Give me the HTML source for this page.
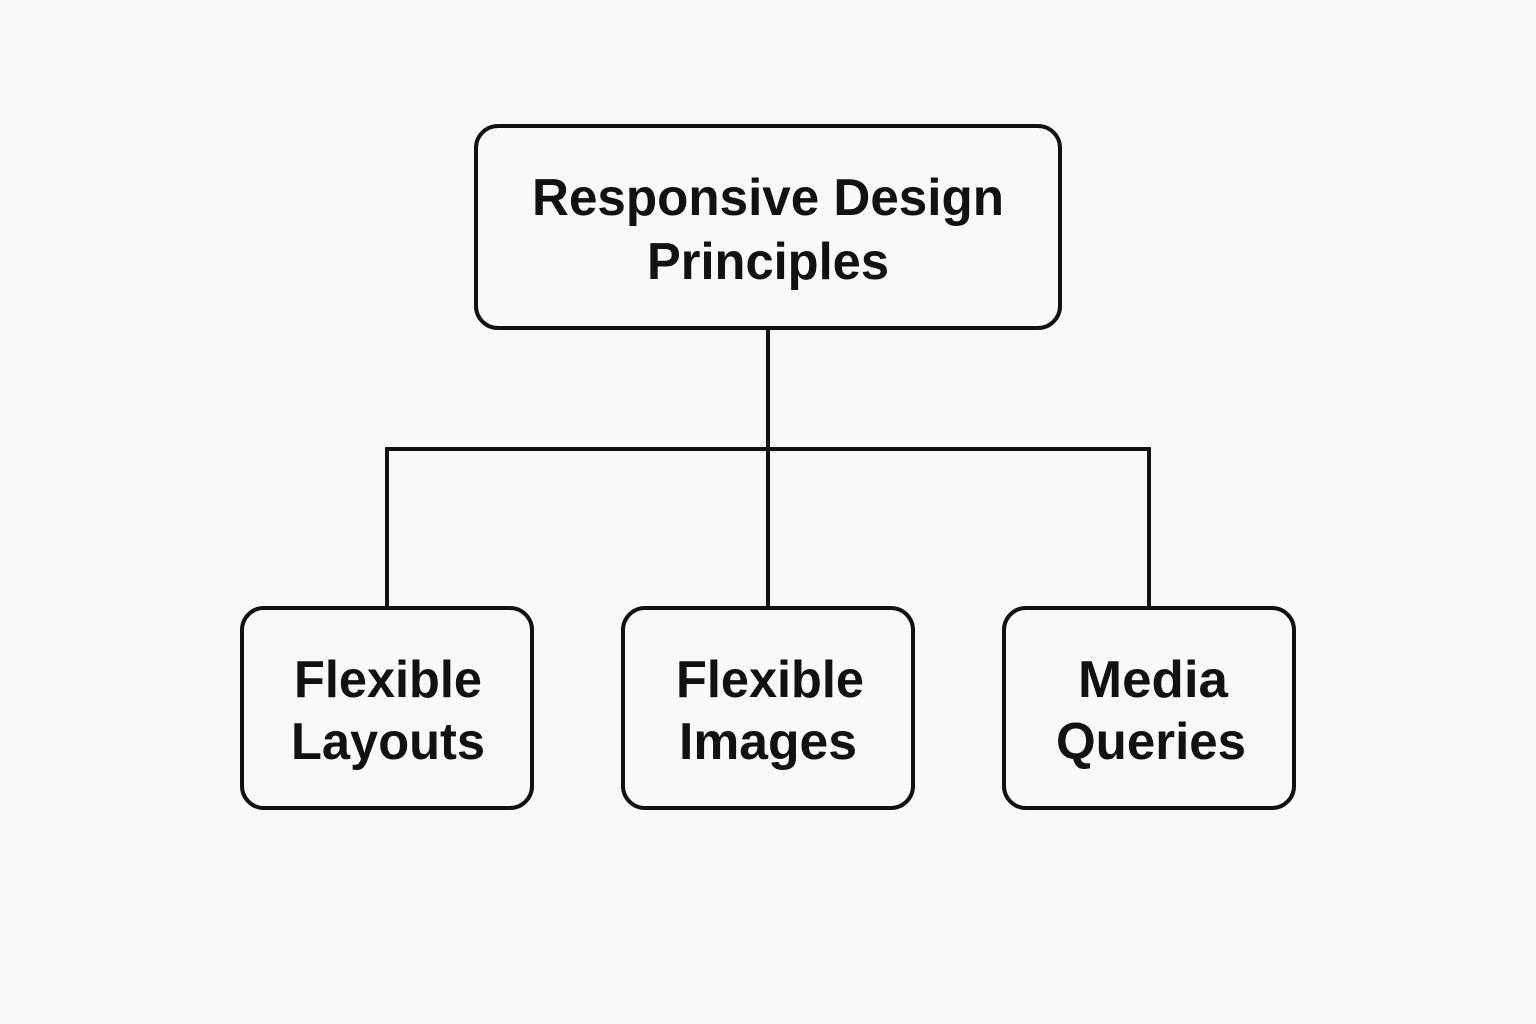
<!DOCTYPE html>
<html><head><meta charset="utf-8"><style>
html,body{margin:0;padding:0;background:#f9f9f9;}
svg{display:block;}
text{font-family:"Liberation Sans",sans-serif;font-weight:bold;fill:#111;text-anchor:middle;}
</style></head><body>
<svg width="1536" height="1024" viewBox="0 0 1536 1024">
<rect width="1536" height="1024" fill="#f9f9f9"/>
<g fill="none" stroke="#111" stroke-width="4">
<rect x="476" y="126" width="584" height="202" rx="22"/>
<rect x="242" y="608" width="290" height="200" rx="22"/>
<rect x="623" y="608" width="290" height="200" rx="22"/>
<rect x="1004" y="608" width="290" height="200" rx="22"/>
<path d="M768 328V608M387 608V449H1149V608"/>
</g>
<text x="768" y="215" font-size="52" textLength="472" lengthAdjust="spacingAndGlyphs">Responsive Design</text>
<text x="768" y="279" font-size="52" textLength="242" lengthAdjust="spacingAndGlyphs">Principles</text>
<text x="388" y="697" font-size="52" textLength="188" lengthAdjust="spacingAndGlyphs">Flexible</text>
<text x="388" y="759" font-size="52" textLength="194" lengthAdjust="spacingAndGlyphs">Layouts</text>
<text x="770" y="697" font-size="52" textLength="188" lengthAdjust="spacingAndGlyphs">Flexible</text>
<text x="768" y="759" font-size="52" textLength="178" lengthAdjust="spacingAndGlyphs">Images</text>
<text x="1153" y="697" font-size="52" textLength="150" lengthAdjust="spacingAndGlyphs">Media</text>
<text x="1151" y="759" font-size="52" textLength="190" lengthAdjust="spacingAndGlyphs">Queries</text>
</svg>
</body></html>
